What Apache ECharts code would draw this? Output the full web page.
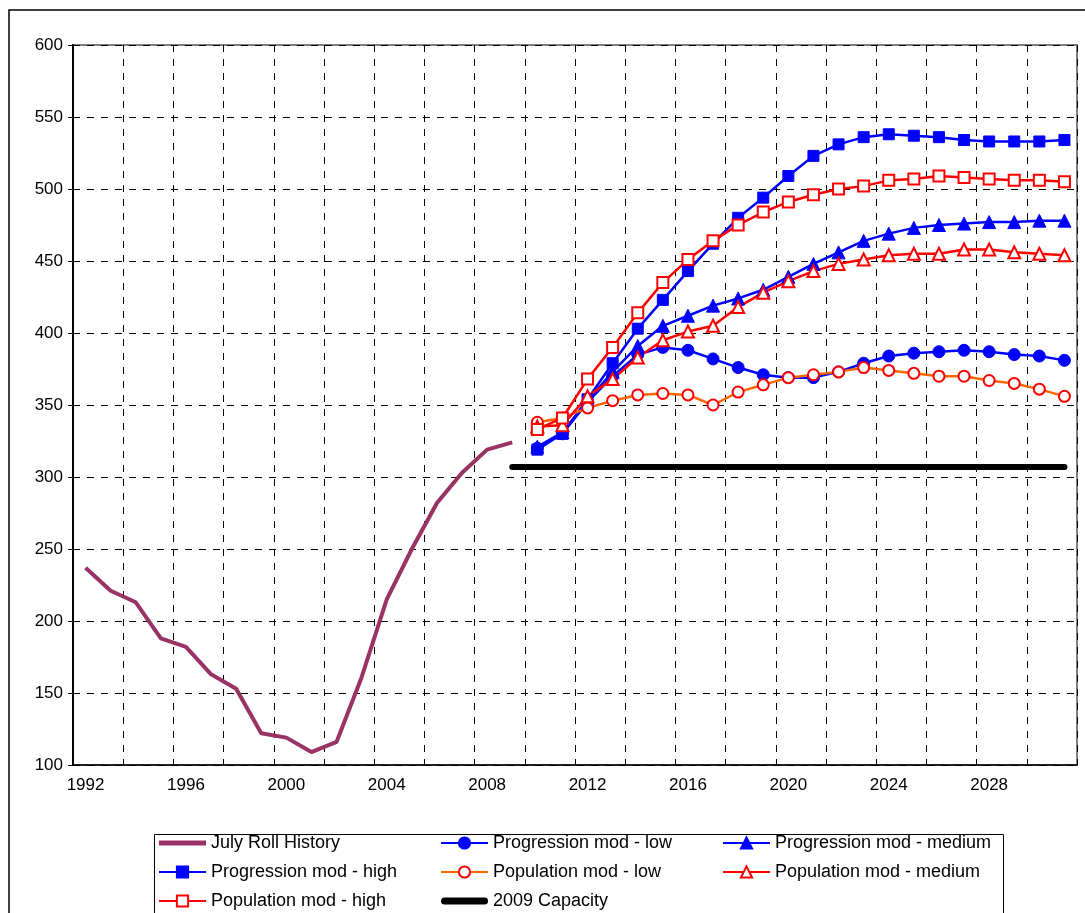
<!DOCTYPE html>
<html>
<head>
<meta charset="utf-8">
<script src="https://cdn.jsdelivr.net/npm/echarts@6/dist/echarts.min.js"></script>
<style>
html,body{margin:0;padding:0;background:#fff;}
#chart{width:1085px;height:913px;}
</style>
</head>
<body>
<div id="chart"></div>
<script>
// Categories (years)
const years = [];
for (let y = 1992; y <= 2031; y++) years.push(String(y));

// July Roll History 1992-2009
const historyVals = [237, 221, 213, 188, 182, 163, 153, 122, 119, 109, 116, 161, 215, 250, 282, 303, 319, 324];
// Projections 2010-2031
const progLow  = [320, 330, 352, 370, 385, 390, 388, 382, 376, 371, 369, 369, 373, 379, 384, 386, 387, 388, 387, 385, 384, 381];
const progMed  = [321, 331, 353, 373, 391, 405, 412, 419, 424, 430, 439, 448, 456, 464, 469, 473, 475, 476, 477, 477, 478, 478];
const progHigh = [319, 330, 354, 379, 403, 423, 443, 462, 480, 494, 509, 523, 531, 536, 538, 537, 536, 534, 533, 533, 533, 534];
const popLow   = [338, 341, 348, 353, 357, 358, 357, 350, 359, 364, 369, 371, 373, 376, 374, 372, 370, 370, 367, 365, 361, 356];
const popMed   = [335, 336, 356, 368, 383, 395, 401, 405, 418, 428, 436, 443, 448, 451, 454, 455, 455, 458, 458, 456, 455, 454];
const popHigh  = [333, 341, 368, 390, 414, 435, 451, 464, 475, 484, 491, 496, 500, 502, 506, 507, 509, 508, 507, 506, 506, 505];
// 2009 Capacity 2009-2031
const capacity2009 = 307;

const seriesNames = ['July Roll History', 'Progression mod - low', 'Progression mod - medium',
  'Progression mod - high', 'Population mod - low', 'Population mod - medium',
  'Population mod - high', '2009 Capacity'];

function pad(startYear, arr) {
  const out = years.map(() => null);
  const s = startYear - 1992;
  arr.forEach((v, i) => { out[s + i] = v; });
  return out;
}
const capArr = [];
for (let y = 2009; y <= 2031; y++) capArr.push(capacity2009);

const FONT = 'Liberation Sans';
const chart = echarts.init(document.getElementById('chart'));

function markerSeries(name, data, lineColor, symbol, size, filled, markColor) {
  return {
    name, type: 'line', data, symbol, symbolSize: size, showSymbol: true,
    connectNulls: false, animation: false,
    lineStyle: { color: lineColor, width: 2.5 },
    itemStyle: filled
      ? { color: markColor, borderColor: markColor, borderWidth: 1 }
      : { color: '#ffffff', borderColor: markColor, borderWidth: 2 },
    emphasis: { disabled: true }
  };
}

const legendCommon = {
  orient: 'vertical', top: 834, padding: 0, itemGap: 11,
  itemWidth: 47, itemHeight: 14,
  textStyle: { fontFamily: FONT, fontSize: 18, lineHeight: 16, color: '#000' },
  selectedMode: false
};
const histIcon = 'path://M0,0 L47,0 L47,5 L0,5 Z';
const capIcon = 'path://M3.5,0 L43.5,0 A3.5,3.5 0 0 1 43.5,7 L3.5,7 A3.5,3.5 0 0 1 3.5,0 Z';

chart.setOption({
  backgroundColor: '#fff',
  animation: false,
  textStyle: { fontFamily: FONT },
  grid: { left: 73, right: 8, top: 45, bottom: 148, show: true, borderColor: '#808080', borderWidth: 2 },
  legend: [
    Object.assign({ left: 158, data: [{ name: seriesNames[0], icon: histIcon }, seriesNames[3], seriesNames[6]] }, legendCommon),
    Object.assign({ left: 440, data: [seriesNames[1], seriesNames[4], { name: seriesNames[7], icon: capIcon }] }, legendCommon),
    Object.assign({ left: 722, data: [seriesNames[2], seriesNames[5]] }, legendCommon)
  ],
  xAxis: {
    type: 'category', data: years, boundaryGap: true,
    axisLine: { lineStyle: { color: '#000', width: 1.5 } },
    axisTick: { interval: 1, length: 5, lineStyle: { color: '#000' } },
    axisLabel: { interval: 3, fontFamily: FONT, fontSize: 17, color: '#000', margin: 12 },
    splitLine: { show: true, interval: 1, lineStyle: { color: '#000', type: [7, 7], width: 1 } }
  },
  yAxis: {
    type: 'value', min: 100, max: 600, interval: 50,
    axisLine: { show: true, lineStyle: { color: '#000', width: 2 } },
    axisTick: { show: true, length: 5, lineStyle: { color: '#000' } },
    axisLabel: { fontFamily: FONT, fontSize: 17, color: '#000', margin: 10 },
    splitLine: { show: true, lineStyle: { color: '#000', type: [7, 7], width: 1 } }
  },
  graphic: [
    { type: 'rect', silent: true, z: -10, shape: { x: 9, y: 10, width: 1300, height: 1300 },
      style: { fill: 'none', stroke: '#000', lineWidth: 1.5 } },
    { type: 'rect', silent: true, z: -10, shape: { x: 154.5, y: 834.5, width: 849, height: 200 },
      style: { fill: '#fff', stroke: '#000', lineWidth: 1 } }
  ],
  series: [
    { name: seriesNames[0], type: 'line', data: pad(1992, historyVals), symbol: 'none', showSymbol: false,
      lineStyle: { color: '#993366', width: 4 }, itemStyle: { color: '#993366' }, emphasis: { disabled: true } },
    markerSeries(seriesNames[1], pad(2010, progLow), '#0000ff', 'circle', 12, true, '#0000ff'),
    markerSeries(seriesNames[2], pad(2010, progMed), '#0000ff', 'triangle', 13, true, '#0000ff'),
    markerSeries(seriesNames[3], pad(2010, progHigh), '#0000ff', 'rect', 11, true, '#0000ff'),
    markerSeries(seriesNames[4], pad(2010, popLow), '#ff6600', 'circle', 11, false, '#ff0000'),
    markerSeries(seriesNames[5], pad(2010, popMed), '#ff0000', 'triangle', 12, false, '#ff0000'),
    markerSeries(seriesNames[6], pad(2010, popHigh), '#ff0000', 'rect', 11, false, '#ff0000'),
    { name: seriesNames[7], type: 'line', data: pad(2009, capArr), symbol: 'none', showSymbol: false,
      lineStyle: { color: '#000', width: 6, cap: 'round' }, itemStyle: { color: '#000' }, emphasis: { disabled: true } }
  ]
});
</script>
</body>
</html>
